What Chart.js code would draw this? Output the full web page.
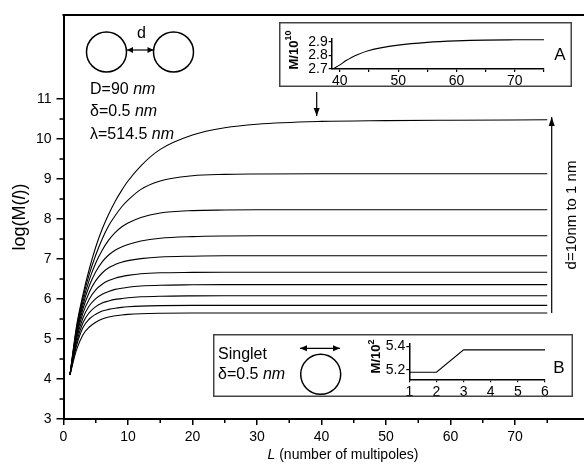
<!DOCTYPE html>
<html><head><meta charset="utf-8">
<script src="https://cdn.jsdelivr.net/npm/chart.js@4"></script>
<style>
html,body{margin:0;padding:0;background:#fff;}
#wrap{position:relative;width:584px;height:473px;overflow:hidden;background:#fff;}
canvas{position:absolute;}
</style></head><body>
<div id="wrap">
<canvas id="main" width="584" height="473" style="left:0;top:0"></canvas>
<canvas id="insA" width="293" height="65" style="left:279px;top:22px"></canvas>
<canvas id="insB" width="360" height="63" style="left:213px;top:334px"></canvas>
</div>
<script>
// ---------- DATA ----------
const multipoles = [1,2,3,4,5,6,7,8,9,10,12,15,20,25,30,40,50,60,75];
const logM_d1  = [4.1,5.3,6.1,6.75,7.3,7.75,8.12,8.44,8.71,8.95,9.33,9.74,10.1,10.28,10.37,10.44,10.46,10.47,10.48];
const logM_d2  = [4.1,5.25,6.02,6.62,7.1,7.5,7.83,8.08,8.3,8.47,8.74,8.95,9.08,9.115,9.125,9.13,9.13,9.13,9.13];
const logM_d3  = [4.1,5.2,5.93,6.48,6.9,7.22,7.47,7.66,7.8,7.9,8.04,8.15,8.21,8.225,8.23,8.23,8.23,8.23,8.23];
const logM_d4  = [4.1,5.15,5.84,6.33,6.68,6.93,7.1,7.22,7.3,7.36,7.45,7.52,7.56,7.575,7.58,7.58,7.58,7.58,7.58];
const logM_d5  = [4.1,5.1,5.75,6.17,6.46,6.65,6.78,6.86,6.92,6.96,7.01,7.05,7.07,7.08,7.08,7.08,7.08,7.08,7.08];
const logM_d6  = [4.1,5.05,5.64,6.0,6.23,6.37,6.46,6.52,6.56,6.59,6.63,6.655,6.665,6.67,6.67,6.67,6.67,6.67,6.67];
const logM_d7  = [4.1,4.98,5.52,5.83,6.01,6.12,6.19,6.24,6.27,6.295,6.325,6.345,6.355,6.36,6.36,6.36,6.36,6.36,6.36];
const logM_d8  = [4.1,4.9,5.4,5.66,5.81,5.9,5.95,5.99,6.01,6.03,6.055,6.07,6.078,6.08,6.08,6.08,6.08,6.08,6.08];
const logM_d9  = [4.1,4.82,5.28,5.5,5.62,5.7,5.74,5.77,5.79,5.805,5.823,5.835,5.84,5.84,5.84,5.84,5.84,5.84,5.84];
const logM_d10 = [4.1,4.72,5.1,5.3,5.42,5.5,5.55,5.58,5.6,5.615,5.632,5.643,5.65,5.65,5.65,5.65,5.65,5.65,5.65];
const allSeries = [logM_d1,logM_d2,logM_d3,logM_d4,logM_d5,logM_d6,logM_d7,logM_d8,logM_d9,logM_d10];

const xTicksMain = [0,5,10,15,20,25,30,35,40,45,50,55,60,65,70,75];
const yTicksMain = [3,3.5,4,4.5,5,5.5,6,6.5,7,7.5,8,8.5,9,9.5,10,10.5,11];

// inset A (dimer, d = 1 nm, M/10^10)
const insetA_L = [39,40,41,42,43,45,47,50,55,60,65,70,75];
const insetA_M = [2.705,2.73,2.76,2.785,2.805,2.835,2.855,2.875,2.895,2.906,2.912,2.914,2.915];
const insetA_xTicks = [40,45,50,55,60,65,70,75];
const insetA_yTicks = [2.7,2.8,2.9];

// inset B (singlet, M/10^2)
const insetB_L = [1,2,3,4,5,6];
const insetB_M = [5.18,5.18,5.37,5.37,5.37,5.37];
const insetB_xTicks = [1,2,3,4,5,6];
const insetB_yTicks = [5.2,5.4];

// ---------- HELPERS ----------
const FF = '"Liberation Sans", Arial, sans-serif';
Chart.defaults.font.family = FF;
Chart.defaults.color = '#000';

function runs(ctx, parts, x, y, align){
  let w = 0;
  parts.forEach(p => { ctx.font = p[1]; w += ctx.measureText(p[0]).width; });
  let cx = align === 'center' ? x - w/2 : (align === 'right' ? x - w : x);
  ctx.textAlign = 'left';
  parts.forEach(p => { ctx.font = p[1]; ctx.fillText(p[0], cx, y + (p[2]||0)); cx += ctx.measureText(p[0]).width; });
}
function head(ctx, x, y, ang, len, wid){
  const c = Math.cos(ang), s = Math.sin(ang);
  ctx.beginPath();
  ctx.moveTo(x, y);
  ctx.lineTo(x - len*c - wid*s, y - len*s + wid*c);
  ctx.lineTo(x - len*c + wid*s, y - len*s - wid*c);
  ctx.closePath(); ctx.fill();
}
function arrow(ctx, x1, y1, x2, y2, len, wid, both){
  const ang = Math.atan2(y2-y1, x2-x1);
  ctx.beginPath(); ctx.moveTo(x1,y1); ctx.lineTo(x2,y2); ctx.stroke();
  head(ctx, x2, y2, ang, len, wid);
  if (both) head(ctx, x1, y1, ang+Math.PI, len, wid);
}
function seg(ctx,x1,y1,x2,y2){ ctx.beginPath(); ctx.moveTo(x1,y1); ctx.lineTo(x2,y2); ctx.stroke(); }
function circle(ctx,x,y,r){ ctx.beginPath(); ctx.arc(x,y,r,0,Math.PI*2); ctx.stroke(); }

// ---------- MAIN CHART ----------
const mainDeco = {
  id: 'mainDeco',
  afterDraw(chart){
    const {ctx, chartArea:a, scales:{x, y}} = chart;
    ctx.save();
    ctx.strokeStyle = '#000'; ctx.fillStyle = '#000';
    // top frame
    ctx.lineWidth = 2; seg(ctx, a.left-1, a.top, a.right, a.top);
    // minor ticks
    ctx.lineWidth = 1.5;
    yTicksMain.filter(v => !Number.isInteger(v)).forEach(v => { const p = y.getPixelForValue(v); seg(ctx, a.left-4, p, a.left, p); });
    xTicksMain.filter(v => v % 10 !== 0).forEach(v => { const p = x.getPixelForValue(v); seg(ctx, p, a.bottom, p, a.bottom+4); });
    // axis titles
    ctx.textBaseline = 'middle';
    runs(ctx, [['L', 'italic 14px '+FF], [' (number of multipoles)', '14px '+FF]], 343, 455, 'center');
    ctx.save(); ctx.translate(20, (a.top+a.bottom)/2); ctx.rotate(-Math.PI/2);
    runs(ctx, [['log(M(', '18px '+FF], ['l', 'italic 18px '+FF], ['))', '18px '+FF]], 0, 0, 'center');
    ctx.restore();
    // dimer schematic
    ctx.lineWidth = 1.5;
    circle(ctx, 106.5, 52, 20); circle(ctx, 173.5, 52, 20);
    ctx.lineWidth = 1.2;
    arrow(ctx, 127, 50, 153.5, 50, 6, 3, true);
    ctx.font = '16px '+FF; ctx.textAlign = 'center'; ctx.fillText('d', 141.5, 34);
    runs(ctx, [['D=90 ', '16px '+FF], ['nm', 'italic 16px '+FF]], 90, 90, 'left');
    runs(ctx, [['δ=0.5 ', '16px '+FF], ['nm', 'italic 16px '+FF]], 90, 112, 'left');
    runs(ctx, [['λ=514.5 ', '16px '+FF], ['nm', 'italic 16px '+FF]], 90, 135, 'left');
    // arrow pointing to top curve
    ctx.lineWidth = 1.2;
    arrow(ctx, 316.7, 92, 316.7, 116, 8, 3, false);
    // d range arrow
    arrow(ctx, 551.7, 313, 551.7, 117, 9, 3, false);
    ctx.save(); ctx.translate(572, 215); ctx.rotate(-Math.PI/2);
    ctx.font = '15px '+FF; ctx.textAlign = 'center'; ctx.fillText('d=10nm to 1 nm', 0, 0);
    ctx.restore();
    ctx.restore();
  }
};

new Chart(document.getElementById('main'), {
  type: 'line',
  data: {
    datasets: allSeries.map((s, i) => ({
      label: 'd' + (i+1),
      data: multipoles.map((L, j) => ({x: L, y: s[j]})),
      borderColor: '#000', borderWidth: 1.1, pointRadius: 0,
      cubicInterpolationMode: 'monotone', fill: false
    }))
  },
  options: {
    responsive: false, animation: false,
    layout: { padding: { top: 15, right: 0, left: 0, bottom: 0 } },
    plugins: { legend: { display: false }, tooltip: { enabled: false } },
    scales: {
      x: {
        type: 'linear', min: 0, max: 80.7,
        afterBuildTicks: ax => { ax.ticks = xTicksMain.map(v => ({value: v})); },
        afterFit: s => { s.height = 54; },
        ticks: { autoSkip: false, maxRotation: 0, padding: 4, font: { size: 14 }, color: '#000',
                 callback: v => (v % 10 === 0 ? String(v) : '') },
        grid: { drawOnChartArea: false, drawTicks: true, tickLength: 6, lineWidth: 1.5,
                color: c => (c.tick && c.tick.value % 10 === 0 ? '#000' : 'rgba(0,0,0,0)') },
        border: { display: true, color: '#000', width: 2 }
      },
      y: {
        type: 'linear', min: 3, max: 13.1,
        afterBuildTicks: ax => { ax.ticks = yTicksMain.map(v => ({value: v})); },
        afterFit: s => { s.width = 63.5; },
        ticks: { autoSkip: false, padding: 5, font: { size: 14 }, color: '#000',
                 callback: v => (Number.isInteger(v) ? String(v) : '') },
        grid: { drawOnChartArea: false, drawTicks: true, tickLength: 7, lineWidth: 1.5,
                color: c => (c.tick && Number.isInteger(c.tick.value) ? '#000' : 'rgba(0,0,0,0)') },
        border: { display: true, color: '#000', width: 2 }
      }
    }
  },
  plugins: [mainDeco]
});

// ---------- INSETS ----------
function insetBox(extra){
  return {
    id: 'box',
    beforeDraw(chart){
      const ctx = chart.ctx, w = chart.width, h = chart.height;
      ctx.save(); ctx.fillStyle = '#fff'; ctx.fillRect(0,0,w,h); ctx.restore();
    },
    afterDraw(chart){
      const ctx = chart.ctx, w = chart.width, h = chart.height;
      ctx.save();
      ctx.strokeStyle = '#444'; ctx.lineWidth = 1.5;
      ctx.strokeRect(0.75, 0.75, w-1.5, h-1.5);
      ctx.fillStyle = '#000'; ctx.strokeStyle = '#000';
      extra(ctx, chart);
      ctx.restore();
    }
  };
}
function insetScales(xmin, xmax, xt, xlab, ymin, ymax, yt, yfmt, leftW, botH){
  return {
    x: {
      type: 'linear', min: xmin, max: xmax,
      afterBuildTicks: ax => { ax.ticks = xt.map(v => ({value: v})); },
      afterFit: s => { s.height = botH; },
      ticks: { autoSkip: false, maxRotation: 0, padding: 1, font: { size: 14 }, color: '#000', callback: xlab },
      grid: { drawOnChartArea: false, tickLength: 3, lineWidth: 1.2, color: '#000' },
      border: { display: true, color: '#000', width: 1.5 }
    },
    y: {
      type: 'linear', min: ymin, max: ymax,
      afterBuildTicks: ax => { ax.ticks = yt.map(v => ({value: v})); },
      afterFit: s => { s.width = leftW; },
      ticks: { autoSkip: false, padding: 1, font: { size: 14 }, color: '#000', callback: yfmt },
      grid: { drawOnChartArea: false, tickLength: 3, lineWidth: 1.2, color: '#000' },
      border: { display: true, color: '#000', width: 1.5 }
    }
  };
}

new Chart(document.getElementById('insA'), {
  type: 'line',
  data: { datasets: [{ data: insetA_L.map((L,i) => ({x: L, y: insetA_M[i]})), borderColor: '#000', borderWidth: 1.1,
    pointRadius: 0, cubicInterpolationMode: 'monotone' }] },
  options: {
    responsive: false, animation: false,
    layout: { padding: { top: 17, right: 28, left: 0, bottom: 0 } },
    plugins: { legend: { display: false }, tooltip: { enabled: false } },
    scales: insetScales(38.6, 75, insetA_xTicks, v => (v % 10 === 0 ? String(v) : ''),
                        2.7, 2.92, insetA_yTicks, v => v.toFixed(1), 52.7, 18)
  },
  plugins: [insetBox((ctx, chart) => {
    ctx.textBaseline = 'middle';
    ctx.save(); ctx.translate(15, 28); ctx.rotate(-Math.PI/2);
    runs(ctx, [['M/10', 'bold 13px '+FF], ['10', 'bold 9px '+FF, -5]], 0, 0, 'center');
    ctx.restore();
    ctx.font = '17px '+FF; ctx.textAlign = 'center'; ctx.fillText('A', 281, 33);
  })]
});

new Chart(document.getElementById('insB'), {
  type: 'line',
  data: { datasets: [{ data: insetB_L.map((L,i) => ({x: L, y: insetB_M[i]})), borderColor: '#000', borderWidth: 1.1,
    pointRadius: 0, tension: 0 }] },
  options: {
    responsive: false, animation: false,
    layout: { padding: { top: 10, right: 28, left: 0, bottom: 0 } },
    plugins: { legend: { display: false }, tooltip: { enabled: false } },
    scales: insetScales(1, 6, insetB_xTicks, v => String(v),
                        5.12, 5.42, insetB_yTicks, v => v.toFixed(1), 196.3, 17.7)
  },
  plugins: [insetBox((ctx, chart) => {
    ctx.textBaseline = 'middle';
    ctx.save(); ctx.translate(163.5, 22.5); ctx.rotate(-Math.PI/2);
    runs(ctx, [['M/10', 'bold 13px '+FF], ['2', 'bold 9px '+FF, -5]], 0, 0, 'center');
    ctx.restore();
    runs(ctx, [['Singlet', '16px '+FF]], 5, 21, 'left');
    runs(ctx, [['δ=0.5 ', '16px '+FF], ['nm', 'italic 16px '+FF]], 5, 41, 'left');
    ctx.lineWidth = 1.5; circle(ctx, 107.7, 40.3, 20);
    ctx.lineWidth = 1.2; arrow(ctx, 87, 14.3, 127, 14.3, 7, 3, true);
    ctx.font = '17px '+FF; ctx.textAlign = 'center'; ctx.fillText('B', 346, 34);
  })]
});
</script>
</body></html>
